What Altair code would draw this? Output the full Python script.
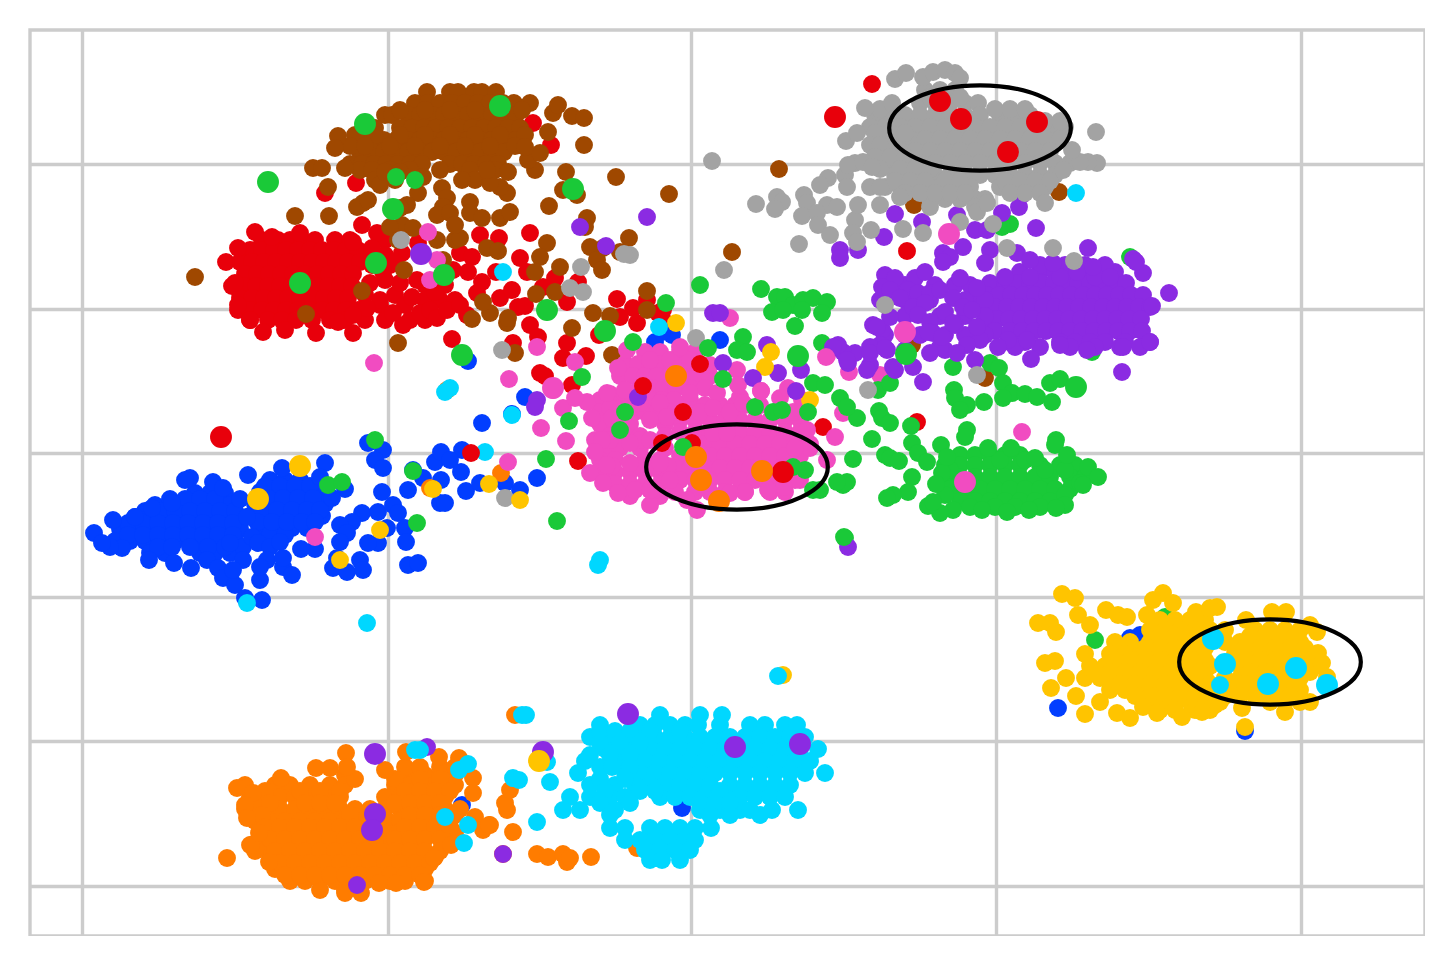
import altair as alt
import pandas as pd

# Values; the scale domains below run in the picture's own reading units.
COLORS = dict(blue="#023eff", orange="#ff7c00", green="#1ac938", red="#e8000b", purple="#8b2be2",
              brown="#9f4800", pink="#f14cc1", gray="#a3a3a3", yellow="#ffc400", cyan="#00d7ff")
X_TICKS = [82, 388, 691, 996, 1301]
Y_TICKS = [164, 309, 453, 597, 741, 886]

blue_rows = [
    (493, [195, 210, 225]), (505, [155, 170, 185, 200, 215, 230]),
    (517, [135, 150, 165, 180, 195, 210, 225, 240]), (529, [120, 135, 150, 165, 180, 195, 210, 225, 240]),
    (541, [115, 130, 145, 160, 175, 190, 205, 220, 235]), (553, [150, 165, 200, 215, 230]),
    (480, [270, 285, 300]), (492, [260, 275, 290, 305, 318]), (504, [255, 270, 285, 300, 315, 325]),
    (516, [250, 265, 280, 295, 310, 322]), (528, [262, 277, 292, 307]), (535, [270, 285]),
    (499, [170, 185, 200, 215]), (511, [145, 160, 175, 190, 205, 220, 235]),
    (523, [128, 143, 158, 173, 188, 203, 218, 233]), (535, [128, 143, 158, 173, 188, 203, 218, 233]),
    (547, [158, 172, 190, 208, 225, 243]), (486, [265, 280, 295, 310]), (498, [268, 283, 298, 313]),
    (510, [262, 277, 292, 307, 320]), (522, [257, 272, 287, 302, 315]),
]
blue_pts = [(94,533),(113,520),(135,517),(152,508),(172,503),(190,478),(185,480),(213,482),(223,488),(240,499),
    (248,475),(149,560),(122,548),(110,547),(102,543),(174,563),(191,568),(207,560),(218,568),(223,578),(235,585),
    (245,598),(262,600),(260,580),(283,567),(292,575),(315,549),(301,549),(325,463),(282,468),(320,477),(345,489),
    (332,498),(247,517),(252,537),(258,543),(270,547),(280,542),(267,560),(283,558),(260,567),(243,560),(233,570),
    (230,543),(368,443),(383,450),(375,460),(383,468),(382,492),(362,513),(352,522),(340,525),(347,533),(340,542),
    (378,512),(393,505),(398,513),(387,528),(405,528),(406,542),(378,543),(368,543),(408,565),(418,563),(337,558),
    (333,568),(347,572),(360,560),(363,570),(408,490),(423,478),(441,480),(440,503),(445,503),(435,462),(441,452),
    (462,450),(450,460),(461,472),(466,491),(480,483),(505,483),(520,490),(537,478),(482,423),(413,470),(525,397),
    (512,414),(468,361),(720,340),(655,342),(672,335),(662,332),(1130,638),(1058,708),(1245,731),(462,805),(682,808),
    (1140,635)]

orange_rows = [
    (775, [345, 410, 425, 440, 455]), (785, [275, 290, 310, 330, 345, 395, 410, 425, 440, 455]),
    (797, [250, 280, 295, 310, 325, 340, 385, 400, 415, 430, 445]),
    (809, [245, 265, 280, 295, 310, 325, 340, 355, 370, 385, 400, 415, 430, 445, 460]),
    (821, [255, 270, 285, 300, 315, 330, 345, 360, 375, 388, 400, 415, 430]),
    (833, [260, 275, 290, 305, 320, 335, 350, 365, 385, 398, 410, 425, 440, 455]),
    (845, [250, 265, 280, 295, 310, 325, 340, 355, 370, 385, 400, 415]),
    (857, [270, 285, 300, 315, 330, 345, 360, 375, 390, 405, 420, 435]),
    (869, [275, 290, 305, 320, 335, 350, 365, 380, 395, 410, 425]),
    (881, [290, 305, 320, 335, 350, 365, 390, 405, 425]), (890, [320, 345, 360]),
    (767, [405, 420, 440, 455]), (779, [355, 395, 420, 440]),
    (791, [265, 300, 320, 340, 405, 420, 435, 450]), (803, [255, 270, 305, 320, 335, 395, 410, 425, 440]),
    (815, [250, 262, 350, 410, 425, 440, 455]),
    (827, [265, 280, 295, 310, 325, 340, 355, 370, 405, 420, 435, 450]),
    (839, [270, 285, 300, 315, 330, 345, 360, 375, 395, 410, 425, 440]),
    (851, [255, 275, 290, 305, 320, 335, 350, 365, 380, 395, 410, 425, 440]),
    (863, [280, 295, 310, 325, 340, 355, 370, 385, 400, 415, 430]),
    (875, [285, 300, 315, 330, 345, 360, 375, 390, 405, 420]),
]
orange_pts = [(227,858),(245,785),(237,788),(253,793),(245,805),(247,818),(251,845),(259,833),(269,862),(281,778),
    (316,768),(330,768),(346,753),(347,767),(385,770),(406,752),(439,757),(459,758),(473,778),(473,793),(490,825),
    (475,817),(483,830),(449,825),(451,845),(434,858),(424,882),(361,893),(345,893),(396,883),(379,883),(515,715),
    (507,810),(505,803),(510,790),(513,832),(537,854),(548,857),(563,854),(567,862),(570,858),(591,857),(503,854),
    (637,848),(489,825),(501,473),(447,390),(430,488)]

red_rows = [
    (240, [262, 278, 290, 302, 315, 335, 350, 385]), (250, [250, 262, 274, 286, 298, 310, 322, 334, 346, 358, 372]),
    (262, [240, 252, 264, 276, 288, 300, 312, 324, 336, 348, 360]),
    (274, [245, 257, 269, 281, 293, 305, 317, 329, 341, 353]),
    (286, [232, 244, 256, 268, 280, 292, 304, 316, 328, 340, 352]),
    (298, [240, 252, 264, 276, 288, 300, 312, 324, 336, 348]),
    (310, [238, 250, 262, 274, 286, 298, 310, 322, 334, 346, 358]), (320, [250, 268, 282, 296, 312, 330, 345]),
    (255, [385]), (265, [372, 390]), (280, [385]), (285, [425, 445]), (295, [365, 395]), (300, [425, 440, 455]),
    (305, [380, 405]), (320, [365, 385, 410, 425]),
]
red_pts = [(255,232),(272,237),(238,248),(226,262),(235,283),(238,305),(250,320),(263,332),(285,330),(316,333),
    (338,322),(353,333),(300,233),(362,225),(353,242),(377,233),(372,248),(418,243),(402,253),(453,270),(460,253),
    (472,257),(468,272),(480,235),(499,238),(530,233),(520,258),(527,272),(496,272),(482,282),(477,293),(500,298),
    (512,290),(555,278),(543,287),(567,302),(578,282),(518,307),(525,306),(530,325),(538,337),(567,343),(563,358),
    (586,356),(540,373),(545,376),(572,385),(617,299),(633,308),(620,317),(637,323),(647,300),(658,313),(513,343),
    (452,339),(403,325),(393,313),(380,300),(367,308),(353,315),(420,313),(412,297),(400,283),(417,280),(435,292),
    (430,310),(437,318),(447,310),(460,305),(467,315),(383,272),(395,262),(370,283),(533,123),(551,145),(356,183),
    (325,193),(599,335),(663,310),(663,320),(578,461),(823,427),(917,422),(872,84),(885,110),(1005,150),(907,251)]

brown_rows = [
    (92, [427, 450, 458, 474, 482, 496]), (103, [415, 428, 440, 452, 465, 478, 490, 503, 514, 530]),
    (115, [385, 392, 408, 420, 432, 444, 456, 468, 480, 492, 504, 516]),
    (128, [375, 400, 412, 424, 436, 448, 460, 472, 484, 496, 508, 520]),
    (140, [362, 372, 384, 396, 408, 420, 432, 444, 456, 468, 480, 492, 504, 516]),
    (152, [360, 372, 384, 396, 408, 420, 432, 444, 456, 468, 480, 492, 504]),
    (164, [350, 362, 374, 386, 398, 410, 422, 450, 462, 474, 486, 498]),
    (110, [400, 425, 450, 475, 500, 522]), (135, [355, 375, 400, 425, 450, 475, 500, 525]),
    (146, [350, 365, 390, 415, 440, 465, 490, 515]), (170, [360, 372, 390, 410, 440, 470, 495]),
    (180, [375, 395, 475]),
]
brown_pts = [(338,136),(335,148),(313,168),(322,168),(345,168),(380,185),(385,172),(400,172),(418,193),(423,177),
    (442,188),(447,198),(443,207),(437,215),(450,213),(470,202),(470,213),(482,218),(500,218),(510,212),(507,193),
    (500,187),(490,183),(462,180),(487,170),(508,172),(535,170),(528,160),(540,153),(525,147),(548,132),(553,113),
    (558,105),(572,116),(584,118),(584,145),(566,172),(616,177),(549,206),(563,190),(577,195),(587,218),(585,227),
    (590,247),(603,248),(629,238),(620,252),(597,260),(602,270),(547,243),(540,257),(560,267),(535,272),(555,292),
    (536,294),(647,291),(647,310),(593,313),(610,316),(572,328),(612,355),(515,353),(507,323),(508,318),(490,313),
    (483,302),(472,319),(404,270),(443,260),(437,240),(455,240),(460,238),(455,225),(487,248),(498,251),(400,230),
    (402,225),(390,227),(413,228),(398,240),(362,291),(306,314),(295,216),(329,216),(328,187),(363,203),(357,207),
    (368,200),(407,205),(400,208),(195,277),(398,343),(779,169),(732,252),(669,194),(1059,192),(914,205),(985,378),
    (912,345)]

pink_rows = [
    (352, [645, 660, 680, 695]), (364, [625, 638, 650, 662, 674, 686]),
    (376, [620, 633, 645, 657, 669, 681, 695, 710]), (388, [640, 652, 664, 676, 690, 705]),
    (400, [600, 612, 625, 650, 662, 674, 690]), (412, [600, 620, 635, 645, 657, 669]),
    (405, [705, 720, 735, 745, 760]), (420, [680, 695, 710, 725, 740, 755, 770, 785, 800]),
    (424, [600, 615, 630, 665]), (436, [610, 625, 640, 665]), (448, [605, 620, 640, 665]),
    (460, [600, 615, 645, 660]), (472, [600, 615, 630, 645, 660]), (484, [615, 630, 645, 660]), (496, [630, 660]),
    (432, [680, 695, 710, 725, 740, 755, 770, 785, 800]), (444, [690, 705, 720, 735, 750, 765, 780, 795, 810]),
    (456, [680, 695, 710, 725, 740, 755, 770, 785, 800]), (468, [675, 690, 705, 720, 735, 750, 765, 780]),
    (480, [680, 695, 710, 725, 740, 755, 770, 785, 800]), (492, [675, 695, 710, 725, 745, 770, 785]),
    (360, [650, 670, 690]), (394, [610, 625, 640]), (408, [610, 628]), (440, [595, 610, 640]),
    (466, [612, 640, 655, 668]), (490, [635, 650, 655]),
]
pink_pts = [(618,368),(627,350),(680,347),(690,393),(625,390),(607,393),(587,402),(563,408),(575,398),(592,418),
    (612,418),(602,440),(595,452),(590,473),(607,465),(603,483),(618,493),(630,463),(630,443),(650,505),(650,490),
    (697,510),(687,500),(670,480),(660,463),(650,440),(650,420),(640,403),(660,403),(667,417),(717,393),(740,397),
    (737,370),(738,385),(700,412),(713,408),(730,412),(743,403),(761,391),(780,398),(788,388),(802,400),(793,412),
    (807,430),(835,437),(827,460),(810,448),(795,448),(795,480),(784,487),(768,490),(745,492),(730,493),(713,433),
    (727,433),(374,363),(509,379),(541,428),(566,441),(553,390),(537,347),(575,362),(428,232),(437,260),(430,280),
    (1022,432),(827,356),(843,413),(849,372),(710,365),(730,318),(508,462),(315,537),(1070,316),(880,375)]

green_rows = [
    (455, [960, 975, 990, 1005, 1020]), (465, [945, 960, 975, 990, 1005, 1020, 1040, 1060, 1075]),
    (477, [945, 960, 975, 990, 1005, 1020, 1035, 1050, 1070, 1085]),
    (489, [950, 965, 980, 995, 1010, 1025, 1040, 1055, 1070]),
    (501, [960, 975, 990, 1005, 1020, 1035, 1050]),
    (460, [1000, 1025]), (470, [950, 1045, 1065]), (483, [1080]), (495, [945, 1065]), (507, [970, 995, 1015, 1040]),
]
green_pts = [(967,430),(965,437),(941,445),(988,448),(1011,448),(1035,458),(1056,440),(1055,445),(1067,455),
    (1088,467),(1098,477),(1083,485),(1065,505),(1056,508),(1029,510),(1007,512),(982,510),(953,510),(940,513),
    (928,506),(933,502),(942,473),(936,484),(947,457),(954,390),(955,398),(967,405),(960,410),(984,402),(990,363),
    (999,368),(1003,383),(1012,393),(1003,398),(1025,394),(1037,397),(1052,402),(1050,383),(1060,379),(953,367),
    (879,411),(882,418),(890,423),(857,418),(911,426),(872,439),(912,443),(918,453),(927,462),(885,455),(890,458),
    (899,461),(853,459),(912,477),(908,492),(893,495),(887,498),(847,482),(843,485),(845,538),(837,482),(813,490),
    (820,490),(805,470),(793,467),(840,398),(847,407),(813,383),(825,385),(878,390),(890,383),(761,289),(777,297),
    (785,297),(772,312),(793,305),(803,300),(813,298),(827,302),(822,313),(802,310),(783,310),(795,326),(822,343),
    (1010,224),(1002,227),(1130,257),(1092,352),(396,177),(415,180),(375,440),(328,485),(342,482),(413,471),(417,523),
    (1165,617),(1095,640),(700,285),(666,303)]

purple_rows = [
    (272, [1020, 1040, 1055, 1070, 1085, 1100, 1115]),
    (283, [990, 1005, 1018, 1030, 1042, 1054, 1066, 1078, 1090, 1102, 1114, 1126]),
    (295, [975, 987, 999, 1011, 1023, 1035, 1047, 1059, 1071, 1083, 1095, 1107, 1119, 1131, 1143]),
    (307, [980, 995, 1007, 1019, 1031, 1043, 1055, 1067, 1079, 1091, 1103, 1115, 1127, 1139, 1150]),
    (319, [985, 997, 1009, 1021, 1033, 1045, 1057, 1069, 1081, 1093, 1105, 1117, 1129, 1141]),
    (331, [995, 1010, 1022, 1034, 1046, 1058, 1070, 1082, 1094, 1106, 1118, 1130, 1142]),
    (342, [1010, 1025, 1060, 1075, 1090, 1105, 1125, 1150]),
    (265, [1040, 1065, 1085, 1105]), (277, [1005, 1030, 1060, 1095, 1110]),
    (347, [1015, 1040, 1070, 1095, 1120, 1140]), (285, [900, 905, 935, 955, 970]),
    (300, [880, 905, 930, 965, 985]), (316, [905, 940, 965, 985]), (335, [885, 905, 920, 945, 965, 985]),
    (350, [905, 945]),
]
purple_pts = [(1013,188),(1022,195),(1019,207),(1002,213),(957,215),(922,222),(895,214),(884,237),(858,250),(840,250),
    (840,258),(1036,228),(975,230),(987,230),(963,247),(943,253),(950,257),(943,262),(990,250),(985,263),(1088,248),
    (1133,259),(1143,273),(1169,293),(1152,306),(1150,342),(1123,347),(1122,372),(1031,359),(1087,350),(1060,345),
    (1027,340),(1008,340),(998,347),(980,340),(1017,253),(1030,260),(1053,263),(1077,272),(1093,267),
    (885,275),(895,278),(882,287),(890,290),(915,278),(925,272),(960,278),(977,288),(908,290),(918,293),(930,293),
    (940,290),(953,298),(900,298),(913,307),(925,303),(963,307),(972,310),(945,312),(918,315),(873,325),(882,330),
    (890,317),(930,322),(933,333),(955,325),(977,327),(967,345),(957,353),(975,360),(940,347),(930,353),(880,345),
    (887,350),(870,347),(855,353),(843,352),(838,345),(848,363),(870,365),(893,367),(913,367),(713,313),(720,313),
    (833,347),(847,360),(870,353),(885,348),(877,327),(867,370),(895,370),(923,382),(928,332),(942,337),(953,323),
    (537,400),(535,407),(801,370),(778,373),(767,345),(723,363),(638,397),(848,547),(647,217),(606,246),(580,227),
    (427,747),(357,885),(503,854),(1136,262)]

gray_rows = [
    (90, [925, 940, 955]), (103, [920, 935, 950, 965, 978]),
    (115, [875, 890, 905, 920, 935, 950, 965, 980, 1000, 1015, 1030]),
    (127, [870, 885, 900, 915, 930, 945, 960, 975, 990, 1005, 1020, 1035, 1050, 1065]),
    (139, [880, 895, 910, 925, 940, 955, 970, 985, 1000, 1015, 1030, 1045, 1060]),
    (151, [885, 900, 915, 930, 945, 960, 975, 990, 1005, 1020, 1035, 1050]),
    (163, [855, 870, 890, 905, 920, 935, 950, 965, 980, 995, 1010, 1025, 1040, 1055, 1070]),
    (175, [845, 895, 935, 950, 965, 980, 995, 1010, 1025, 1040, 1055]),
    (187, [870, 885, 900, 925, 940, 955, 970, 1000, 1015, 1030, 1045]),
    (199, [930, 945, 960, 975, 985]), (207, [930, 975]),
    (97, [930, 945, 960]), (109, [880, 995, 1010, 1025]), (121, [1045, 1060]), (133, [875, 890, 905]),
    (145, [870, 880]), (157, [875, 890, 905]), (169, [880, 900, 915, 930]),
    (181, [895, 910, 925, 945, 960, 1005, 1020, 1035, 1050]), (193, [905, 920, 935, 950, 965, 1010, 1025, 1040]),
]
gray_pts = [(895,79),(906,73),(923,77),(933,72),(945,70),(955,73),(960,78),(1096,132),(1097,163),(1088,162),(1080,162),
    (1072,150),(1063,170),(1045,203),(846,141),(865,108),(892,103),(857,133),(848,165),(863,162),(872,167),(847,187),
    (828,178),(820,185),(804,195),(807,203),(756,204),(777,197),(782,202),(775,209),(802,216),(827,205),(837,207),
    (817,213),(818,225),(830,235),(799,244),(855,220),(858,205),(880,205),(880,187),(900,197),(853,233),(857,242),
    (871,230),(903,229),(923,233),(712,161),(724,270),(977,212),(987,203),(960,222),(993,224),(1053,248),(1074,261),
    (1007,248),(885,305),(977,375),(868,390),(502,350),(505,498),(581,267),(570,288),(583,292),(630,255),(624,254),
    (401,240),(696,338)]

yellow_rows = [
    (620, [1160, 1175, 1190, 1205]), (630, [1150, 1165, 1180, 1195, 1210, 1225, 1255, 1270, 1285, 1300]),
    (642, [1115, 1130, 1150, 1165, 1180, 1195, 1210, 1225, 1240, 1255, 1270, 1285, 1300]),
    (654, [1085, 1110, 1125, 1140, 1155, 1170, 1185, 1200, 1235, 1250, 1265, 1280, 1295, 1310]),
    (666, [1090, 1105, 1120, 1135, 1150, 1165, 1180, 1195, 1210, 1240, 1255, 1270, 1285, 1300, 1315]),
    (678, [1085, 1100, 1115, 1130, 1145, 1160, 1175, 1190, 1205, 1225, 1240, 1255, 1285, 1300]),
    (690, [1110, 1125, 1140, 1155, 1170, 1185, 1200, 1215, 1235, 1250, 1270, 1285, 1300]),
    (702, [1145, 1160, 1175, 1190, 1205, 1220, 1270, 1285, 1300]),
    (636, [1160, 1175, 1190, 1205, 1220, 1250, 1265, 1280, 1295]),
    (648, [1145, 1160, 1175, 1190, 1205, 1245, 1260, 1275, 1290, 1305]),
    (660, [1115, 1130, 1145, 1160, 1175, 1190, 1205, 1245, 1260, 1275, 1290, 1305]),
    (672, [1095, 1110, 1125, 1140, 1155, 1170, 1185, 1200, 1250, 1265, 1280, 1295, 1310]),
    (684, [1120, 1135, 1150, 1165, 1180, 1195, 1210, 1230, 1245, 1260, 1280, 1295]),
    (696, [1135, 1150, 1165, 1180, 1195, 1210, 1225, 1240, 1255, 1275, 1290]),
    (710, [1160, 1175, 1195, 1210]),
]
yellow_pts = [(1062,594),(1075,598),(1078,615),(1090,625),(1038,623),(1050,623),(1056,632),(1045,663),(1055,661),
    (1051,688),(1066,678),(1076,696),(1100,702),(1085,714),(1117,713),(1130,718),(1106,610),(1118,615),(1127,617),
    (1163,593),(1153,600),(1173,603),(1147,615),(1196,612),(1217,607),(1210,608),(1246,620),(1272,612),(1286,612),
    (1310,625),(1317,632),(1318,653),(1322,663),(1327,677),(1310,702),(1285,712),(1242,708),(1245,727),(1215,705),
    (1202,712),(1182,717),(1157,713),(1143,707),(771,352),(676,323),(520,500),(433,489),(489,484),(765,367),(810,400),
    (783,675),(340,560),(380,530)]

cyan_rows = [
    (715, [660, 700, 722]), (725, [600, 640, 655, 670, 685, 698, 720, 750, 765, 785, 797]),
    (737, [590, 610, 625, 640, 655, 670, 685, 700, 715, 730, 745, 760, 775, 790, 805]),
    (749, [605, 620, 635, 650, 665, 680, 695, 710, 725, 740, 755, 770, 785, 800, 818]),
    (761, [585, 615, 630, 645, 660, 675, 690, 705, 720, 735, 750, 765, 780, 795, 810]),
    (773, [578, 625, 640, 655, 670, 685, 700, 715, 730, 745, 760, 775, 790, 805, 825]),
    (785, [590, 615, 635, 650, 665, 680, 695, 710, 730, 745, 760, 775, 790]),
    (797, [570, 590, 610, 625, 660, 675, 690, 705, 725, 740, 755, 770, 785]),
    (810, [563, 580, 615, 700, 720, 740, 750, 772, 798]), (828, [610, 625, 650, 665, 680, 695, 711]),
    (840, [625, 640, 655, 670, 685, 695]), (850, [645, 660, 675, 690]), (860, [650, 662, 680]),
    (731, [600, 615, 630, 650, 680]), (743, [600, 620, 640]), (755, [590, 610, 630]), (767, [600, 612, 630]),
    (779, [600, 625]), (791, [605, 640, 655, 720]), (803, [600, 630, 700, 715, 730]), (815, [610, 710, 730, 760]),
]
cyan_pts = [(550,782),(537,822),(468,825),(464,843),(445,817),(459,770),(468,764),(420,750),(415,750),(547,762),
    (513,778),(519,780),(522,715),(526,715),(778,676),(1076,193),(367,623),(247,603),(600,560),(598,565),(503,272),
    (445,392),(450,388),(485,452),(512,415),(659,327),(1220,685)]

# Normal-sized points that sit above the clusters
top_red = [(683,412),(700,364),(643,386),(662,443),(692,443),(471,453)]
top_green = [(625,412),(620,430),(773,412),(782,410),(808,412),(755,407),(743,337),(737,350),(747,352),(708,348),
             (723,379),(633,342),(582,377),(569,421),(546,459),(557,521),(844,537),(683,447)]
top_purple = [(753,378),(796,391)]
top_pink = [(761,391),(826,357)]

# Larger points
big_red = [(221,437),(835,117),(940,101),(961,119),(1037,122),(1008,152),(783,472)]
big_green = [(300,283),(268,182),(365,124),(500,106),(393,209),(376,263),(444,275),(547,310),(605,331),(462,355),
             (573,189),(798,356),(906,354),(1076,387)]
big_purple = [(375,754),(375,814),(372,830),(735,747),(800,744),(628,714),(543,752),(421,254)]
big_pink = [(905,332),(949,234),(965,482),(553,388)]
big_orange = [(676,376),(696,457),(701,480),(719,501),(762,471)]
big_yellow = [(300,466),(258,499),(539,761)]
big_cyan = [(1213,639),(1225,664),(1296,668),(1268,684),(1327,685)]

# Ellipses: centre positions
ell_x = [980, 737, 1270]
ell_y = [128, 467, 662]


def rows(table):
    return [(x, y) for y, xs in table for x in xs]


NORMAL = 320
LARGE = 480
series = [
    ("blue", rows(blue_rows) + blue_pts, NORMAL), ("orange", rows(orange_rows) + orange_pts, NORMAL),
    ("red", rows(red_rows) + red_pts, NORMAL), ("brown", rows(brown_rows) + brown_pts, NORMAL),
    ("pink", rows(pink_rows) + pink_pts, NORMAL), ("green", rows(green_rows) + green_pts, NORMAL),
    ("purple", rows(purple_rows) + purple_pts, NORMAL), ("gray", rows(gray_rows) + gray_pts, NORMAL),
    ("yellow", rows(yellow_rows) + yellow_pts, NORMAL), ("cyan", rows(cyan_rows) + cyan_pts, NORMAL),
    ("red", top_red, NORMAL), ("green", top_green, NORMAL), ("purple", top_purple, NORMAL), ("pink", top_pink, NORMAL),
    ("red", big_red, LARGE), ("green", big_green, LARGE), ("purple", big_purple, LARGE), ("pink", big_pink, LARGE),
    ("orange", big_orange, LARGE), ("yellow", big_yellow, LARGE), ("cyan", big_cyan, LARGE),
]
records = [dict(x=p[0], y=p[1], c=COLORS[name], s=size) for name, pts, size in series for p in pts]
df = pd.DataFrame(records)

x_scale = alt.Scale(domain=[30, 1425], nice=False, zero=False)
y_scale = alt.Scale(domain=[936, 30], nice=False, zero=False)
grid_axis = dict(title=None, labels=False, ticks=False, domain=False, grid=True,
                 gridColor="#cccccc", gridWidth=3.4)

points = alt.Chart(df).mark_circle(opacity=1).encode(
    x=alt.X("x:Q", scale=x_scale, axis=alt.Axis(values=X_TICKS, **grid_axis)),
    y=alt.Y("y:Q", scale=y_scale, axis=alt.Axis(values=Y_TICKS, **grid_axis)),
    color=alt.Color("c:N", scale=None),
    size=alt.Size("s:Q", scale=None),
)

ELLIPSE = "M-1,0A1,0.47,0,1,1,1,0A1,0.47,0,1,1,-1,0Z"
ellipses = alt.Chart(pd.DataFrame({"x": ell_x, "y": ell_y})).mark_point(
    shape=ELLIPSE, size=33000, filled=False, stroke="black", strokeWidth=4.2, opacity=1
).encode(x=alt.X("x:Q", scale=x_scale), y=alt.Y("y:Q", scale=y_scale))

chart = (points + ellipses).properties(
    width=1395, height=906,
    padding={"left": 22, "top": 22, "right": 0, "bottom": 0},
    autosize=alt.AutoSizeParams(type="none"),
).configure_view(stroke="#cccccc", strokeWidth=3.4)

chart.save("out.html", embed_options={"renderer": "svg", "actions": False})
